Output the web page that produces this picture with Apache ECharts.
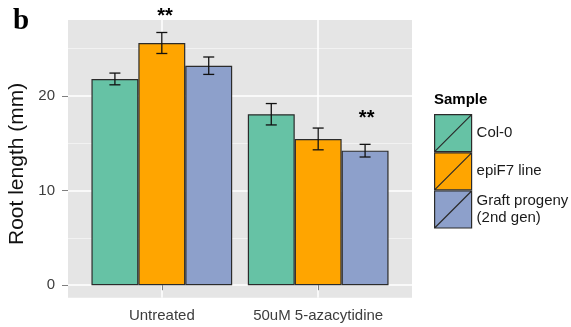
<!DOCTYPE html>
<html><head><meta charset="utf-8">
<script src="https://cdn.jsdelivr.net/npm/echarts@6/dist/echarts.min.js"></script>
<style>html,body{margin:0;padding:0;background:#fff}#c{width:571px;height:327px}</style>
</head><body><div id="c"></div>
<script>
const categories = ['Untreated', '50uM 5-azacytidine'];
const sampleNames = ['Col-0', 'epiF7 line', 'Graft progeny\n(2nd gen)'];
const col0Mean = [21.8, 18.07];
const epiF7Mean = [25.6, 15.46];
const graftMean = [23.2, 14.22];
const col0Err = [0.62, 1.13];
const epiF7Err = [1.11, 1.15];
const graftErr = [0.92, 0.67];
const yTickValues = [0, 10, 20];
const yMinorValues = [5, 15, 25];
const starText = ['**', '**'];
const starX = [1.02, 2.31];
const starY = [28.36, 17.63];

const colors = ['#66C2A5', '#FFA500', '#8DA0CB'];
const means = [col0Mean, epiF7Mean, graftMean];
const errs = [col0Err, epiF7Err, graftErr];
const groupPos = categories.map((c, i) => i + 1);
const dodge = 0.3;
const FONT = '"Liberation Sans", Arial, Helvetica, sans-serif';

const chart = echarts.init(document.getElementById('c'), null, {renderer: 'canvas'});

const series = [];
sampleNames.forEach((name, s) => {
  series.push({
    type: 'bar', name: name, xAxisIndex: 0, yAxisIndex: 0,
    data: means[s].map((v, g) => [groupPos[g], v]),
    barGap: '0%', barCategoryGap: '10%',
    itemStyle: {color: colors[s], borderColor: '#2b2b2b', borderWidth: 1.2},
    emphasis: {disabled: true}, silent: true, z: 2
  });
});
const errData = [];
sampleNames.forEach((name, s) => {
  means[s].forEach((v, g) => errData.push([groupPos[g] + (s - 1) * dodge, v, errs[s][g]]));
});
series.push({
  type: 'custom', name: 'errors', z: 5, silent: true,
  data: errData,
  renderItem: function (params, api) {
    const x = api.value(0), m = api.value(1), e = api.value(2);
    const pLo = api.coord([x, m - e]), pHi = api.coord([x, m + e]);
    const w = 5.5;
    const st = {stroke: '#111', lineWidth: 1.3};
    return {type: 'group', children: [
      {type: 'line', shape: {x1: pLo[0], y1: pLo[1], x2: pHi[0], y2: pHi[1]}, style: st},
      {type: 'line', shape: {x1: pLo[0] - w, y1: pLo[1], x2: pLo[0] + w, y2: pLo[1]}, style: st},
      {type: 'line', shape: {x1: pHi[0] - w, y1: pHi[1], x2: pHi[0] + w, y2: pHi[1]}, style: st}
    ]};
  }
});
series.push({
  type: 'custom', name: 'stars', z: 6, silent: true, clip: false,
  data: starText.map((t, i) => [starX[i], starY[i], i]),
  renderItem: function (params, api) {
    const p = api.coord([api.value(0), api.value(1)]);
    return {type: 'text', x: p[0], y: p[1], style: {
      text: starText[api.value(2)], fill: '#000', align: 'center', verticalAlign: 'middle',
      font: 'bold 20px ' + FONT}};
  }
});

chart.setOption({
  animation: false,
  backgroundColor: '#fff',
  title: [
    {text: 'b', left: 13, top: 7, padding: 0,
     textStyle: {fontFamily: '"Liberation Serif", "Times New Roman", serif', fontWeight: 'bold', fontSize: 29, color: '#000'}},
    {text: 'Sample', left: 434, top: 92, padding: 0,
     textStyle: {fontFamily: FONT, fontWeight: 'bold', fontSize: 15, color: '#000'}}
  ],
  legend: {
    orient: 'vertical', left: 434, top: 114, padding: 0,
    itemWidth: 37, itemHeight: 37, itemGap: 0,
    icon: 'path://M0,0L1,0L1,1L0,1Z M0,1L1,0',
    itemStyle: {borderColor: '#2b2b2b', borderWidth: 1.2},
    textStyle: {fontFamily: FONT, fontSize: 15, color: '#1a1a1a', lineHeight: 17.5},
    data: sampleNames, selectedMode: false
  },
  grid: {left: 68, right: 159, top: 20, bottom: 29.2, show: true, backgroundColor: '#E5E5E5', borderWidth: 0,
         containLabel: false, outerBoundsMode: 'none'},
  xAxis: {
    type: 'value', min: 0.4, max: 2.6,
    axisLine: {show: false},
    axisTick: {show: true, customValues: groupPos, length: 5, lineStyle: {color: '#7f7f7f', width: 1}},
    axisLabel: {customValues: groupPos, formatter: v => categories[Math.round(v) - 1], fontFamily: FONT, fontSize: 15, color: '#3d3d3d', margin: 11},
    splitLine: {show: true, lineStyle: {color: '#fff', width: 1.5}}
  },
  yAxis: [{
    type: 'value', min: -1.33, max: 28.03,
    name: 'Root length (mm)', nameLocation: 'middle', nameGap: 34,
    nameTextStyle: {fontFamily: FONT, fontSize: 21, color: '#111', padding: [0, 10, 0, 0]},
    axisLine: {show: false},
    axisTick: {show: true, customValues: yTickValues, length: 6, lineStyle: {color: '#7f7f7f', width: 1}},
    axisLabel: {customValues: yTickValues, fontFamily: FONT, fontSize: 15, color: '#3d3d3d', margin: 13},
    splitLine: {show: true, lineStyle: {color: '#fff', width: 1.5}}
  }, {
    type: 'value', min: -1.33, max: 28.03, position: 'left',
    axisLine: {show: false},
    axisTick: {show: false, customValues: yMinorValues},
    axisLabel: {show: false, customValues: yMinorValues},
    splitLine: {show: true, lineStyle: {color: '#F2F2F2', width: 1}}
  }],
  series: series
});
</script>
</body></html>
